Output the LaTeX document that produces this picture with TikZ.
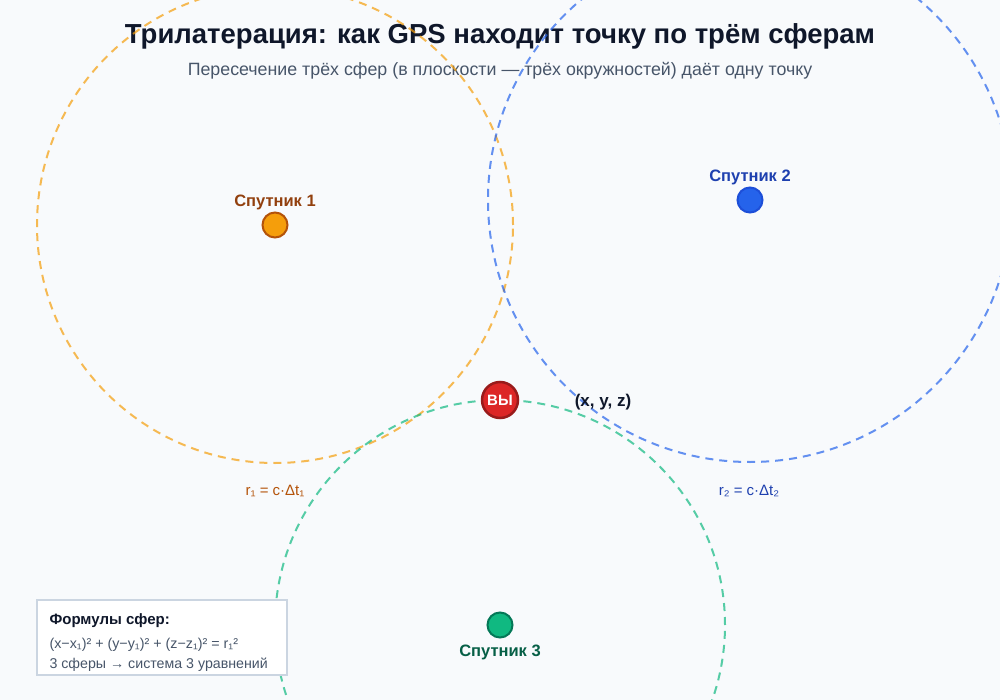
\documentclass[tikz,border=0pt]{standalone}
\usepackage{fontspec}
\setmainfont{Liberation Sans}
\usetikzlibrary{positioning}
\definecolor{bgpage}{HTML}{F8FAFC}
\definecolor{inkdark}{HTML}{0F172A}
\definecolor{inkgray}{HTML}{475569}
\definecolor{satone}{HTML}{F59E0B}
\definecolor{satoneline}{HTML}{B45309}
\definecolor{satonetext}{HTML}{92400E}
\definecolor{sattwo}{HTML}{2563EB}
\definecolor{sattwoline}{HTML}{1D4ED8}
\definecolor{sattwotext}{HTML}{1E40AF}
\definecolor{satthree}{HTML}{10B981}
\definecolor{satthreeline}{HTML}{047857}
\definecolor{satthreetext}{HTML}{065F46}
\definecolor{youred}{HTML}{DC2626}
\definecolor{youline}{HTML}{991B1B}
\definecolor{boxline}{HTML}{CBD5E1}
\newcommand{\fs}[1]{\fontsize{#1}{#1}\selectfont}
\tikzset{
  sat/.style={circle,line width=2pt,minimum size=25pt,inner sep=0pt},
  satname/.style={font=\fs{16.5}\bfseries},
  orbit/.style={line width=2pt,dash pattern=on 8pt off 6pt,draw opacity=0.7},
  rlabel/.style={font=\fs{15}}
}
\begin{document}
\begin{tikzpicture}[x=1pt,y=-1pt]
% \draw[help lines] (0,0) grid (1000,700);
\fill[bgpage] (0,0) rectangle (1000,700);
\useasboundingbox (0,0) rectangle (1000,700);
%
\node (title) [font=\fs{27.5}\bfseries,text=inkdark] at (500,36) {Трилатерация: как GPS находит точку по трём сферам};
\node (subtitle) [font=\fs{17.8}\selectfont,text=inkgray] at (500,71) {Пересечение трёх сфер (в плоскости — трёх окружностей) даёт одну точку};
%
\node (s1) [sat,fill=satone,draw=satoneline] at (275,225) {};
\node (s2) [sat,fill=sattwo,draw=sattwoline] at (750,200) {};
\node (s3) [sat,fill=satthree,draw=satthreeline] at (500,625) {};
%
\begin{scope}
\clip (0,0) rectangle (1000,700);
\draw[orbit,satone] (s1.center) circle[radius=238pt];
\draw[orbit,sattwo] (s2.center) circle[radius=262pt];
\draw[orbit,satthree] (s3.center) circle[radius=225pt];
\end{scope}
%
\node (you) [circle,fill=youred,draw=youline,line width=2.5pt,minimum size=36pt,inner sep=0pt,text=white,font=\fs{15}\bfseries] at (500,400) {ВЫ};
\node (xyz) [font=\fs{17}\bfseries,text=inkdark] at (603,402) {(x, y, z)};
%
\node (n1) [satname,text=satonetext] at (275,202) {Спутник 1};
\node (n2) [satname,text=sattwotext] at (750,177) {Спутник 2};
\node (n3) [satname,text=satthreetext] at (500,652) {Спутник 3};
%
\node (r1) [rlabel,text=satoneline] at (275,491) {r₁ = c·Δt₁};
\node (r2) [rlabel,text=sattwotext] at (749,491) {r₂ = c·Δt₂};
%
\node (formbox) [draw=boxline,line width=1.2pt,fill=white,minimum width=250pt,minimum height=75pt,inner sep=0pt] at (162,637.5) {};
\node (f1) [anchor=west,font=\fs{15}\bfseries,text=inkdark] at (46,621) {Формулы сфер:};
\node (f2) [anchor=west,font=\fs{14.3},text=inkgray] at (46,645) {(x−x₁)² + (y−y₁)² + (z−z₁)² = r₁²};
\node (f3) [anchor=west,font=\fs{14.2},text=inkgray] at (46,665) {3 сферы → система 3 уравнений};
\end{tikzpicture}
\end{document}
